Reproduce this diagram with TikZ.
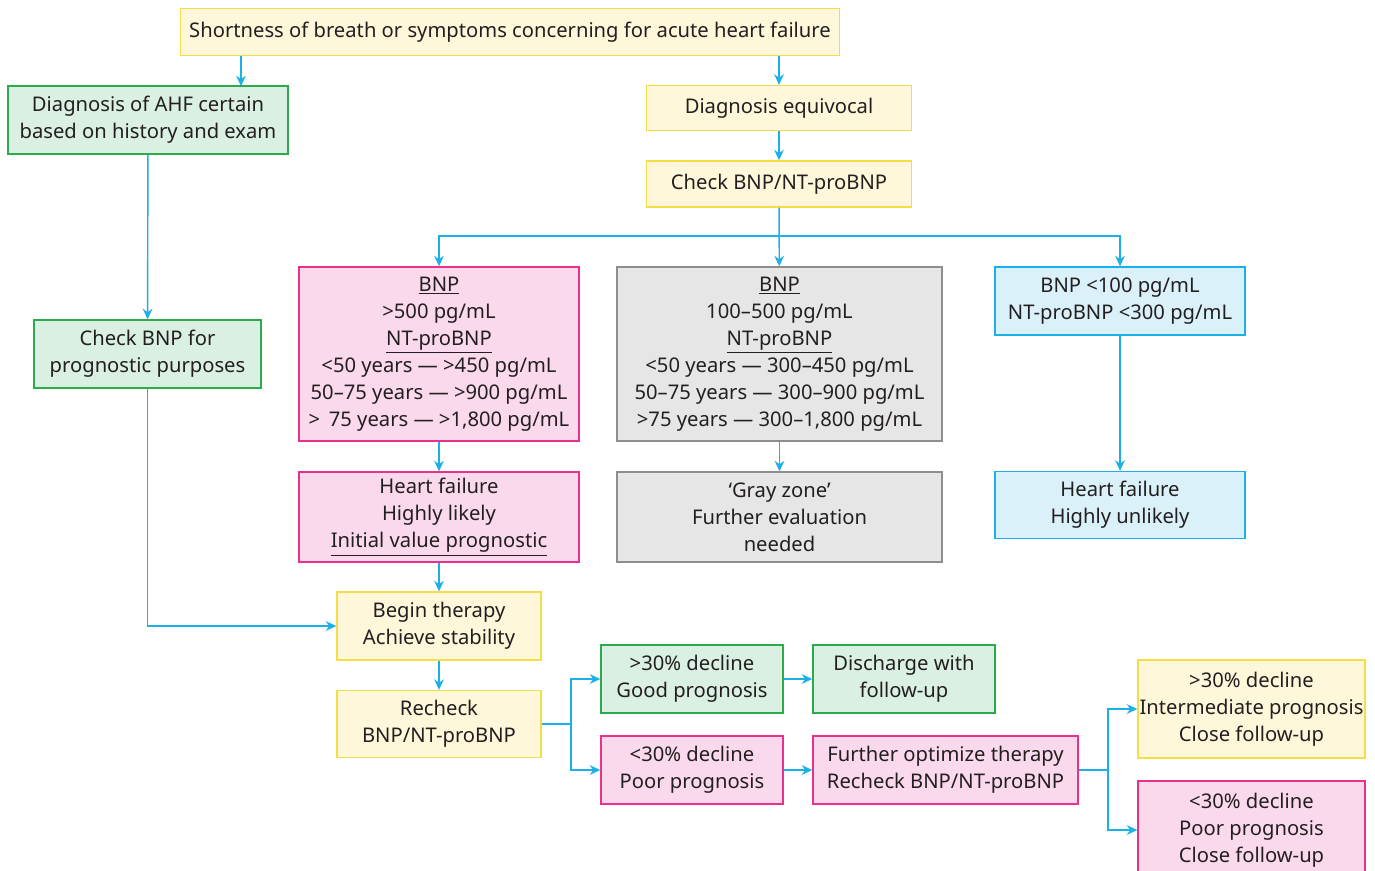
\documentclass[tikz,border=0pt]{standalone}
\usepackage{fontspec}
\setmainfont{Noto Sans}
\usetikzlibrary{arrows.meta,positioning}
\definecolor{txt}{HTML}{231F20}
\definecolor{line}{HTML}{1CB0E8}
\definecolor{yelfill}{HTML}{FEF7DA}
\definecolor{yeldraw}{HTML}{F6DC45}
\definecolor{grnfill}{HTML}{DAF0E3}
\definecolor{grndraw}{HTML}{2DAA4B}
\definecolor{pnkfill}{HTML}{FBD9EC}
\definecolor{pnkdraw}{HTML}{E9318B}
\definecolor{gryfill}{HTML}{E6E6E6}
\definecolor{grydraw}{HTML}{8E8E8E}
\definecolor{blufill}{HTML}{DAF1FA}
\definecolor{bludraw}{HTML}{1CB0E8}
\tikzset{
    box/.style={
        draw,
        line width=0.8pt,
        align=center,
        text=txt,
        inner sep=0pt,
        font=\fontsize{11.5}{15.4}\selectfont
    },
    yel/.style={box, fill=yelfill, draw=yeldraw},
    grn/.style={box, fill=grnfill, draw=grndraw},
    pnk/.style={box, fill=pnkfill, draw=pnkdraw},
    gry/.style={box, fill=gryfill, draw=grydraw},
    blu/.style={box, fill=blufill, draw=bludraw},
    link/.style={draw=line, line width=0.8pt},
    arr/.style={
        link,
        -{Stealth[length=6pt,width=5.5pt]}
    }
}

\begin{document}
\begin{tikzpicture}[x=0.02cm, y=-0.02cm]
  \useasboundingbox (0,0) rectangle (1375,870);

  \node[yel, minimum width=13.18cm, minimum height=0.94cm] (top) at (510,32)
    {Shortness of breath or symptoms concerning for acute heart failure};
  \node[grn, minimum width=5.6cm, minimum height=1.36cm] (certain) at (148,120)
    {Diagnosis of AHF certain\\based on history and exam};
  \node[yel, minimum width=5.3cm, minimum height=0.9cm] (equivocal) at (779,108)
    {Diagnosis equivocal};
  \node[yel, minimum width=5.3cm, minimum height=0.92cm] (check) at (779,184)
    {Check BNP/NT-proBNP};

  \node[pnk, minimum width=5.6cm, minimum height=3.48cm] (high) at (439,354)
    {\underline{BNP}\\>500 pg/mL\\\underline{NT-proBNP}\\<50 years --- >450 pg/mL\\
     50--75 years --- >900 pg/mL\\> \,75 years --- >1,800 pg/mL};
  \node[gry, minimum width=6.5cm, minimum height=3.48cm] (gray) at (779.5,354)
    {\underline{BNP}\\100--500 pg/mL\\\underline{NT-proBNP}\\<50 years --- 300--450 pg/mL\\
     50--75 years --- 300--900 pg/mL\\>75 years --- 300--1,800 pg/mL};
  \node[blu, minimum width=5cm, minimum height=1.36cm] (low) at (1120,301)
    {BNP <100 pg/mL\\NT-proBNP <300 pg/mL};
  \node[grn, minimum width=4.54cm, minimum height=1.36cm] (prog) at (147.5,354)
    {Check BNP for\\prognostic purposes};

  \node[pnk, minimum width=5.6cm, minimum height=1.8cm] (likely) at (439,517)
    {Heart failure\\Highly likely\\\underline{Initial value prognostic}};
  \node[gry, minimum width=6.5cm, minimum height=1.8cm] (grayzone) at (779.5,517)
    {`Gray zone'\\Further evaluation\\needed};
  \node[blu, minimum width=5cm, minimum height=1.34cm] (unlikely) at (1120,505)
    {Heart failure\\Highly unlikely};

  \node[yel, minimum width=4.08cm, minimum height=1.36cm] (therapy) at (439,626)
    {Begin therapy\\Achieve stability};
  \node[yel, minimum width=4.08cm, minimum height=1.34cm] (recheck) at (439,724)
    {Recheck\\BNP/NT-proBNP};
  \node[grn, minimum width=3.64cm, minimum height=1.36cm] (good) at (692,679)
    {>30\% decline\\Good prognosis};
  \node[pnk, minimum width=3.64cm, minimum height=1.36cm] (poor) at (692,770)
    {<30\% decline\\Poor prognosis};
  \node[grn, minimum width=3.64cm, minimum height=1.36cm] (discharge) at (904,679)
    {Discharge with\\follow-up};
  \node[pnk, minimum width=5.3cm, minimum height=1.36cm] (optimize) at (945.5,770)
    {Further optimize therapy\\Recheck BNP/NT-proBNP};
  \node[yel, minimum width=4.54cm, minimum height=1.96cm] (interm) at (1251.5,709)
    {>30\% decline\\Intermediate prognosis\\Close follow-up};
  \node[pnk, minimum width=4.54cm, minimum height=1.96cm] (poorclose) at (1251.5,830)
    {<30\% decline\\Poor prognosis\\Close follow-up};

  \coordinate (split) at (779,236);
  \coordinate (fork1) at (571,724);
  \coordinate (fork2) at (1108,770);

  \draw[arr] (top.south -| certain.north) ++(93,0) -- ++(0,30);
  \draw[arr] (top.south -| equivocal.north) -- (equivocal.north);
  \draw[arr] (equivocal) -- (check);
  \draw[arr] (check) -- (gray);
  \draw[arr] (split) -| (high.north);
  \draw[arr] (split) -| (low.north);
  \draw[arr] (high) -- (likely);
  \draw[arr] (gray) -- (grayzone);
  \draw[arr] (low) -- (unlikely);
  \draw[arr] (certain) -- (prog);
  \draw[arr] (prog.south) |- (therapy.west);
  \draw[arr] (likely) -- (therapy);
  \draw[arr] (therapy) -- (recheck);
  \draw[link] (recheck.east) -- (fork1);
  \draw[arr] (fork1) |- (good.west);
  \draw[arr] (fork1) |- (poor.west);
  \draw[arr] (good) -- (discharge);
  \draw[arr] (poor) -- (optimize);
  \draw[link] (optimize.east) -- (fork2);
  \draw[arr] (fork2) |- (interm.west);
  \draw[arr] (fork2) |- (poorclose.west);

\end{tikzpicture}
\end{document}
